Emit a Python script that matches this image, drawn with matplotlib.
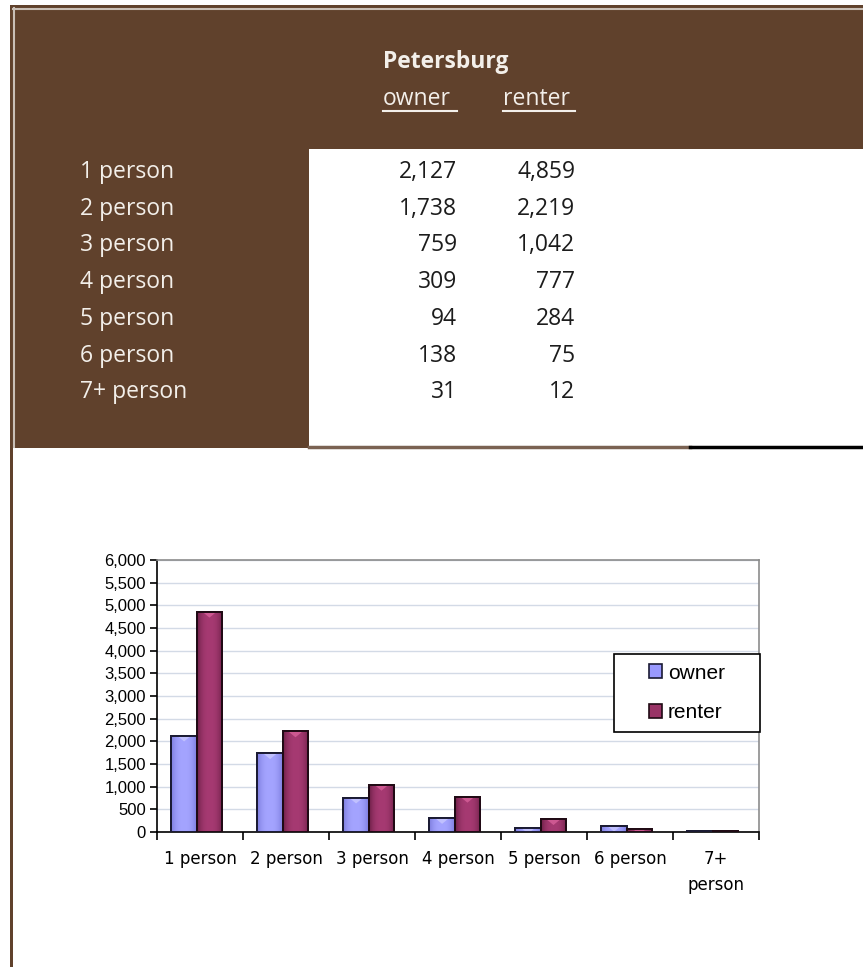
import numpy as np
import matplotlib.pyplot as plt
from matplotlib.patches import Rectangle, Polygon
from matplotlib.colors import LinearSegmentedColormap

# household size by tenure, Petersburg
sizes = ['1 person', '2 person', '3 person', '4 person', '5 person', '6 person', '7+ person']
tick_labels = ['1 person', '2 person', '3 person', '4 person', '5 person', '6 person', '7+\nperson']
owner = [2127, 1738, 759, 309, 94, 138, 31]
renter = [4859, 2219, 1042, 777, 284, 75, 12]
yticks = list(range(0, 6001, 500))

W, H = 863, 967
brown = '#60412c'
pale = '#f3efea'

fig = plt.figure(figsize=(W / 100, H / 100), dpi=100)

# full-page layer in pixel units for the sheet background and the table
bg = fig.add_axes([0, 0, 1, 1])
bg.set_xlim(0, W)
bg.set_ylim(H, 0)
bg.axis('off')

bg.add_patch(Rectangle((10, 5), W - 10, 443, facecolor=brown, edgecolor='none'))
bg.plot([13, W], [8.5, 8.5], color='#c9bfb6', lw=1.5)
bg.plot([13.5, 13.5], [8, 447], color='#c9bfb6', lw=1.5)
bg.add_patch(Rectangle((309, 149), W - 309, 297, facecolor='white', edgecolor='none'))
bg.plot([309, 690], [447, 447], color='#7a6252', lw=2.5)
bg.plot([690, W], [447, 447], color='black', lw=2.5)
bg.add_patch(Rectangle((10, 448), 3, H - 448, facecolor=brown, edgecolor='none'))

hfont = 'Open Sans'
fs = 16.5
bg.text(383, 62, 'Petersburg', color=pale, fontsize=fs, fontweight='bold',
        family=hfont, ha='left', va='center')
bg.text(383, 99, 'owner', color=pale, fontsize=fs, family=hfont, ha='left', va='center')
bg.text(503, 99, 'renter', color=pale, fontsize=fs, family=hfont, ha='left', va='center')
bg.plot([383, 457], [111, 111], color=pale, lw=1.5)
bg.plot([503, 575], [111, 111], color=pale, lw=1.5)

row_y = 172
for name, o, r in zip(sizes, owner, renter):
    bg.text(80, row_y, name, color=pale, fontsize=fs, family=hfont, ha='left', va='center')
    bg.text(457, row_y, f'{o:,}', color='#1c1c1c', fontsize=fs, family=hfont,
            ha='right', va='center')
    bg.text(575, row_y, f'{r:,}', color='#1c1c1c', fontsize=fs, family=hfont,
            ha='right', va='center')
    row_y += 36.7

# clustered column chart
left, right, top, bottom = 157, 759, 560, 832
ax = fig.add_axes([left / W, 1 - bottom / H, (right - left) / W, (bottom - top) / H])
x = np.arange(len(sizes))
bw = 0.295
bars_o = ax.bar(x - 0.185, owner, bw, color='#9999ff', edgecolor='#1a1a33', lw=1.2,
                label='owner', zorder=3)
bars_r = ax.bar(x + 0.11, renter, bw, color='#993366', edgecolor='#1f0a14', lw=1.2,
                label='renter', zorder=3)

# bevelled shading across each column
profile = np.abs(np.linspace(-1, 1, 64)) ** 2.5
shade = {
    'owner': LinearSegmentedColormap.from_list('o', ['#a4a4ff', '#7c7cdc']),
    'renter': LinearSegmentedColormap.from_list('r', ['#a63a72', '#6c1f47']),
}
tip = {'owner': '#c8c8ff', 'renter': '#d8609a'}
for bars, key in ((bars_o, 'owner'), (bars_r, 'renter')):
    for b in bars:
        x0, w, h = b.get_x(), b.get_width(), b.get_height()
        im = ax.imshow(profile[np.newaxis, :], cmap=shade[key], aspect='auto',
                       extent=(x0, x0 + w, 0, h), zorder=3.1, interpolation='bilinear')
        im.set_clip_path(b)
        tri = Polygon([(x0 + 0.22 * w, h), (x0 + 0.78 * w, h), (x0 + 0.5 * w, h - 130)],
                      closed=True, facecolor=tip[key], edgecolor='none', alpha=0.8, zorder=3.2)
        ax.add_patch(tri)
        tri.set_clip_path(b)
        ax.add_patch(Rectangle((x0, 0), w, h, facecolor='none', edgecolor=b.get_edgecolor(),
                               lw=1.4, zorder=3.3))

ax.set_xlim(-0.5, len(sizes) - 0.5)
ax.set_ylim(0, 6000)
ax.set_yticks(yticks)
ax.set_yticklabels([f'{v:,}' for v in yticks], family='Liberation Sans', fontsize=12)
ax.yaxis.grid(True, color='#d3dae6', lw=1, zorder=0)
ax.tick_params(axis='y', direction='out', length=5, width=1.2, pad=3)

ax.set_xticks(np.arange(-0.5, len(sizes)), labels=[])
ax.set_xticks(x, labels=tick_labels, minor=True)
ax.tick_params(axis='x', which='major', direction='out', length=6, width=1.2)
ax.tick_params(axis='x', which='minor', length=0, pad=13)
for lab in ax.get_xticklabels(minor=True):
    lab.set_family('DejaVu Sans')
    lab.set_fontsize(12)
    lab.set_linespacing(1.55)

for s in ('left', 'bottom'):
    ax.spines[s].set_color('black')
    ax.spines[s].set_linewidth(1.2)
for s in ('top', 'right'):
    ax.spines[s].set_color('#8c8c8c')
    ax.spines[s].set_linewidth(1.2)

# legend box with the entries centred inside it
frame = Rectangle((614 / W, 1 - 732 / H), 146 / W, 78 / H, transform=fig.transFigure,
                  facecolor='white', edgecolor='black', lw=1.2, zorder=5)
fig.add_artist(frame)
leg = fig.legend(handles=[bars_o, bars_r], labels=['owner', 'renter'], loc='center',
                 bbox_to_anchor=(687 / W, 1 - 693 / H), frameon=False,
                 handlelength=0.6, handleheight=0.65, handletextpad=0.3,
                 borderpad=0, labelspacing=1.0,
                 prop={'family': 'Liberation Sans', 'size': 15})
leg.set_zorder(6)

fig.savefig('out.png', dpi=100)
